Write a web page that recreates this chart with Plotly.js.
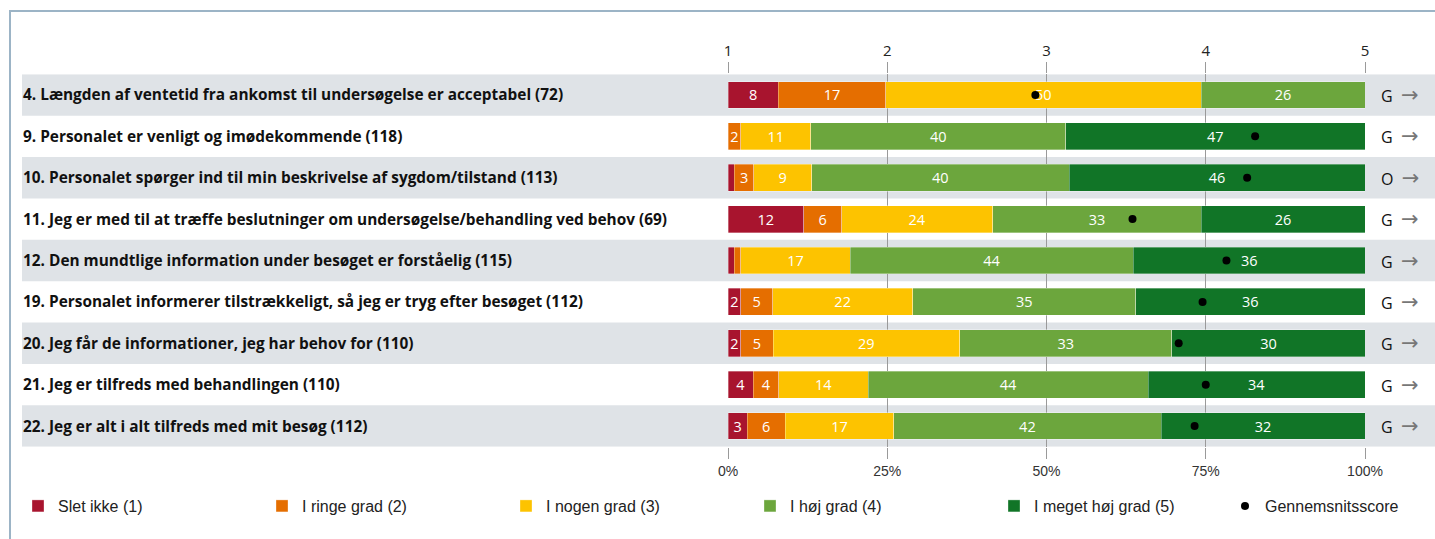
<!DOCTYPE html>
<html><head><meta charset="utf-8">
<script src="https://cdn.plot.ly/plotly-3.0.1.min.js"></script>
<style>html,body{margin:0;padding:0;background:#fff;}#chart{width:1435px;height:539px;}</style>
</head><body><div id="chart"></div>
<script>
const questions = [
  "4. Længden af ventetid fra ankomst til undersøgelse er acceptabel (72)",
  "9. Personalet er venligt og imødekommende (118)",
  "10. Personalet spørger ind til min beskrivelse af sygdom/tilstand (113)",
  "11. Jeg er med til at træffe beslutninger om undersøgelse/behandling ved behov (69)",
  "12. Den mundtlige information under besøget er forståelig (115)",
  "19. Personalet informerer tilstrækkeligt, så jeg er tryg efter besøget (112)",
  "20. Jeg får de informationer, jeg har behov for (110)",
  "21. Jeg er tilfreds med behandlingen (110)",
  "22. Jeg er alt i alt tilfreds med mit besøg (112)"
];
const sletIkke   = [8, 0, 1, 12, 1, 2, 2, 4, 3];
const iRinge     = [17, 2, 3, 6, 1, 5, 5, 4, 6];
const iNogen     = [50, 11, 9, 24, 17, 22, 29, 14, 17];
const iHoj       = [26, 40, 40, 33, 44, 35, 33, 44, 42];
const iMegetHoj  = [0, 47, 46, 26, 36, 36, 30, 34, 32];
const avgScore   = [2.93, 4.31, 4.26, 3.54, 4.13, 3.98, 3.83, 4.00, 3.93];
const rightMarks = ["G", "G", "O", "G", "G", "G", "G", "G", "G"];
const seriesNames = ["Slet ikke (1)", "I ringe grad (2)", "I nogen grad (3)", "I høj grad (4)", "I meget høj grad (5)"];
const avgName = "Gennemsnitsscore";
const pctTicks = [0, 25, 50, 75, 100];
const pctTickText = ["0%", "25%", "50%", "75%", "100%"];
const scoreTicks = [1, 2, 3, 4, 5];

const colors = ["#a8142e", "#e56e00", "#fdc300", "#6ca63d", "#117527"];
const W = 1435, H = 539;
const px = v => v / W, py = v => 1 - v / H;

const series = [sletIkke, iRinge, iNogen, iHoj, iMegetHoj];
const traces = series.map((vals, k) => ({
  type: 'bar', orientation: 'h', name: seriesNames[k],
  x: vals, y: questions,
  marker: {color: colors[k], line: {width: 0.6, color: 'rgba(255,255,255,0.55)'}},
  text: vals.map(v => v >= 2 ? String(v) : ''),
  textposition: 'inside', insidetextanchor: 'middle', constraintext: 'none',
  textfont: {family: 'Open Sans, sans-serif', size: 14.5, color: '#ffffff'},
  hoverinfo: 'skip', xaxis: 'x', yaxis: 'y', legend: 'legend'
}));
traces.push({
  type: 'scatter', mode: 'markers', name: avgName,
  x: avgScore, y: questions, xaxis: 'x2', yaxis: 'y',
  marker: {color: '#000', size: 8}, hoverinfo: 'skip', legend: 'legend2'
});

const shapes = [];
questions.forEach((q, i) => {
  if (i % 2 === 0) shapes.push({type: 'rect', layer: 'below', xref: 'paper', yref: 'y',
    x0: px(22), x1: 1, y0: i - 0.5, y1: i + 0.5, fillcolor: '#dfe3e7', line: {width: 0}});
});
shapes.push({type: 'line', xref: 'paper', yref: 'paper', x0: px(10), x1: 1, y0: py(11), y1: py(11), line: {color: '#9cb4c6', width: 2}});
shapes.push({type: 'line', xref: 'paper', yref: 'paper', x0: px(10), x1: px(10), y0: 0, y1: py(10), line: {color: '#9cb4c6', width: 2}});

const annotations = [];
questions.forEach((q, i) => {
  annotations.push({xref: 'paper', yref: 'y', x: px(21), y: q, xanchor: 'left', yanchor: 'middle',
    text: '<b>' + q + '</b>', showarrow: false, font: {family: 'Open Sans, sans-serif', size: 15.4, color: '#111'}});
  annotations.push({xref: 'paper', yref: 'y', x: px(1379), y: q, xanchor: 'left', yanchor: 'middle',
    text: rightMarks[i] + '&nbsp;&nbsp;<span style="color:#777;font-family:DejaVu Sans;font-size:21px">→</span>', showarrow: false,
    font: {family: 'Open Sans, sans-serif', size: 16, color: '#111'}});
});

const legendFont = {family: 'Liberation Sans, Arial, sans-serif', size: 16, color: '#222'};
const layout = {
  width: W, height: H, margin: {l: 0, r: 0, t: 0, b: 0},
  paper_bgcolor: '#fff', plot_bgcolor: 'rgba(0,0,0,0)',
  barmode: 'stack', barnorm: 'percent', bargap: 0.35,
  showlegend: true,
  xaxis: {domain: [px(728), px(1365)], range: [0, 100], tickvals: pctTicks, ticktext: pctTickText,
    showgrid: true, gridcolor: '#9a9a9a', gridwidth: 1, zeroline: false, showline: false,
    ticks: 'outside', ticklen: 11, tickcolor: '#9a9a9a', tickwidth: 1,
    tickfont: {family: 'Liberation Sans, Arial, sans-serif', size: 14, color: '#333'}, fixedrange: true},
  xaxis2: {overlaying: 'x', side: 'top', anchor: 'y', range: [1, 5], tickvals: scoreTicks,
    showgrid: false, zeroline: false, showline: false,
    ticks: 'outside', ticklen: 11, tickcolor: '#9a9a9a', tickwidth: 1,
    tickfont: {family: 'Open Sans, sans-serif', size: 15, color: '#222'}},
  yaxis: {domain: [1 - 446.7 / H, 1 - 74.3 / H], type: 'category', range: [8.5, -0.5],
    showticklabels: false, showgrid: false, zeroline: false, ticks: ''},
  legend: {orientation: 'h', x: px(18), xanchor: 'left', y: py(506), yanchor: 'middle',
    entrywidth: 199, entrywidthmode: 'pixels', traceorder: 'normal', font: legendFont},
  legend2: {orientation: 'h', x: px(1225), xanchor: 'left', y: py(506), yanchor: 'middle',
    font: legendFont},
  shapes: shapes, annotations: annotations
};
Plotly.newPlot('chart', traces, layout, {displayModeBar: false, staticPlot: true});
</script></body></html>
